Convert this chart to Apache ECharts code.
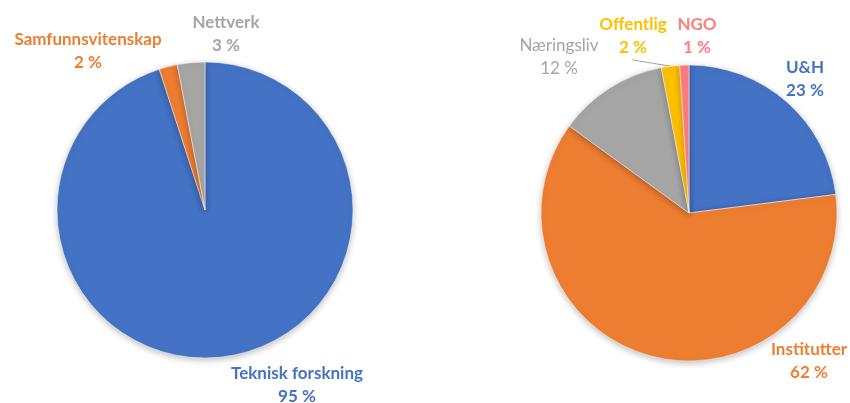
<!DOCTYPE html>
<html lang="no">
<head>
    <meta charset="UTF-8">
    <script src="https://cdn.jsdelivr.net/npm/echarts@6/dist/echarts.min.js"></script>
    <title>pie</title>
    <style>
        html, body { margin: 0; padding: 0; background: #fff; }
        #chart { width: 850px; height: 403px; }
    </style>
</head>
<body>
    <div id="chart"></div>
    <script>
        // left pie: fagområde
        let leftNames = ['Teknisk forskning', 'Samfunnsvitenskap', 'Nettverk'];
        let leftValues = [95, 2, 3];
        let leftColors = ['#4472C4', '#ED7D31', '#A5A5A5'];
        let leftLabelPos = [[297, 385], [88, 51], [226, 34]];

        // right pie: sektor
        let rightNames = ['U&H', 'Institutter', 'Næringsliv', 'Offentlig', 'NGO'];
        let rightValues = [23, 62, 12, 2, 1];
        let rightColors = ['#4472C4', '#ED7D31', '#A5A5A5', '#FFC000', '#FF7C80'];
        let rightLabelPos = [[805, 79], [809, 361], [559, 57], [633, 36], [697, 36]];
        let rightBold = [true, true, false, true, true];

        function buildData(names, values, colors, bold) {
            let data = [];
            for (let i = 0; i < names.length; i++) {
                data.push({
                    name: names[i],
                    value: values[i],
                    itemStyle: { color: colors[i] },
                    label: {
                        color: colors[i],
                        fontWeight: (bold && !bold[i]) ? 'normal' : 'bold'
                    }
                });
            }
            return data;
        }

        function pieSeries(center, data, positions) {
            return {
                type: 'pie',
                center: center,
                radius: 148,
                startAngle: 90,
                clockwise: true,
                silent: true,
                animation: false,
                avoidLabelOverlap: false,
                data: data,
                itemStyle: {
                    borderColor: '#fff',
                    borderWidth: 0.5,
                    shadowBlur: 6,
                    shadowOffsetY: 2,
                    shadowColor: 'rgba(0,0,0,0.25)'
                },
                label: {
                    show: true,
                    position: 'outside',
                    formatter: '{b}\n{c} %',
                    fontFamily: 'Lato',
                    fontSize: 17,
                    lineHeight: 23,
                    align: 'center',
                    overflow: 'none',
                    width: 200
                },
                labelLine: {
                    show: false
                },
                labelLayout: function (params) {
                    let p = positions[params.dataIndex];
                    return {
                        x: p[0],
                        y: p[1],
                        align: 'center',
                        verticalAlign: 'middle',
                        hideOverlap: false
                    };
                }
            };
        }

        let rightData = buildData(rightNames, rightValues, rightColors, rightBold);
        // Offentlig has a leader line
        rightData[3].labelLine = { show: true, length: 1, length2: 1, lineStyle: { color: '#A5A5A5', width: 1 } };

        let option = {
            backgroundColor: '#fff',
            series: [
                pieSeries([205, 210], buildData(leftNames, leftValues, leftColors), leftLabelPos),
                pieSeries([689, 213], rightData, rightLabelPos)
            ]
        };

        var myChart = echarts.init(document.getElementById('chart'));
        myChart.setOption(option);
    </script>
</body>
</html>
